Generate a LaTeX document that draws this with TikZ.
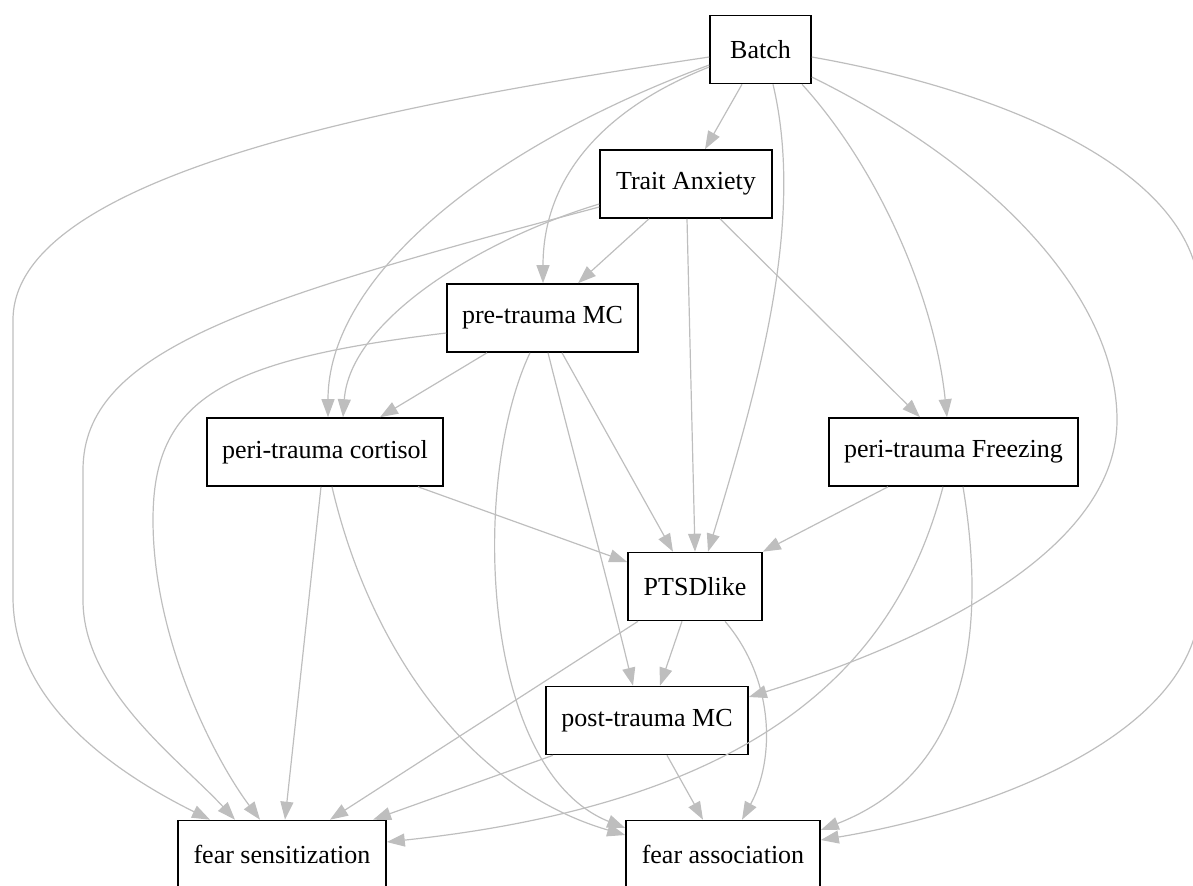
\documentclass[tikz,border=0pt]{standalone}
\usepackage{fontspec}
\setmainfont{Liberation Serif}
\usepackage{xcolor}
\usepackage{tikz}
\usetikzlibrary{arrows.meta, calc}

\definecolor{edgegrey}{RGB}{190,190,190}

\tikzset{
  %% Variable box
  var/.style={
    rectangle, draw=black, line width=0.8pt,
    minimum height=34pt, inner sep=2pt,
    font=\fontsize{13}{15}\selectfont
  },
  %% Dependency arrow
  dep/.style={-{Triangle[length=9pt,width=6.5pt]},
              draw=edgegrey, line width=0.6pt},
}

\begin{document}
\begin{tikzpicture}[x=0.5pt, y=-0.5pt]

  \useasboundingbox (0,0) rectangle (1193,885);

  %% Nodes
  \node[var, minimum width=50.5pt] (batch) at (760.5,49.5) {Batch};
  \node[var, minimum width=86pt]   (trait) at (686,184)    {Trait Anxiety};
  \node[var, minimum width=95.5pt] (pre)   at (542.5,318)  {pre-trauma MC};
  \node[var, minimum width=118pt]  (cort)  at (325,452)    {peri-trauma cortisol};
  \node[var, minimum width=124.5pt](freez) at (953.5,452)  {peri-trauma Freezing};
  \node[var, minimum width=67pt]   (ptsd)  at (695,586.5)  {PTSDlike};
  \node[var, minimum width=101pt]  (post)  at (647,720.5)  {post-trauma MC};
  \node[var, minimum width=104pt]  (sens)  at (282,854.5)  {fear sensitization};
  \node[var, minimum width=97pt]   (assoc) at (723,854.5)  {fear association};

  %% From Batch
  \draw[dep] ($(batch.south)+(-18.5,0)$) -- ($(trait.north)+(19,0)$);
  \draw[dep] ($(batch.west)+(0,17.5)$) .. controls (600,110) and (543,180)
       .. ($(pre.north)+(0.5,0)$);
  \draw[dep] ($(batch.west)+(0,15.5)$) .. controls (480,150) and (328,280)
       .. ($(cort.north)+(3,0)$);
  \draw[dep] ($(batch.south)+(12.5,0)$) .. controls (805,220) and (760,380)
       .. ($(ptsd.north)+(13,0)$);
  \draw[dep] ($(batch.south)+(41.5,0)$) .. controls (880,170) and (935,300)
       .. ($(freez.north)+(-6.5,0)$);
  \draw[dep] ($(batch.east)+(0,27.5)$) .. controls (1000,170) and (1117,300)
       .. (1117,420) .. controls (1117,560) and (900,650)
       .. ($(post.east)+(0,-23.5)$);
  \draw[dep] ($(batch.west)+(0,7.5)$) .. controls (420,100) and (13,170)
       .. (13,320) -- (13,597) .. controls (13,700) and (110,770)
       .. ($(sens.north)+(-72,0)$);
  \draw[dep] ($(batch.east)+(0,7.5)$) .. controls (1000,90) and (1200,170)
       .. (1200,300) -- (1200,600) .. controls (1200,730) and (1000,810)
       .. ($(assoc.east)+(0,-14.5)$);

  %% From Trait Anxiety
  \draw[dep] ($(trait.south)+(-37,0)$) -- ($(pre.north)+(35.5,0)$);
  \draw[dep] ($(trait.west)+(0,20)$) .. controls (480,240) and (350,320)
       .. ($(cort.north)+(18,0)$);
  \draw[dep] ($(trait.west)+(0,23)$) .. controls (250,300) and (83,350)
       .. (83,470) -- (83,600) .. controls (83,690) and (180,760)
       .. ($(sens.north)+(-47,0)$);
  \draw[dep] ($(trait.south)+(1,0)$) -- (ptsd.north);
  \draw[dep] ($(trait.south)+(34,0)$) -- ($(freez.north)+(-33.5,0)$);

  %% From pre-trauma MC
  \draw[dep] ($(pre.south)+(-55.5,0)$) -- ($(cort.north)+(55,0)$);
  \draw[dep] ($(pre.west)+(0,15)$) .. controls (220,360) and (153,400)
       .. (153,520) .. controls (153,640) and (215,760)
       .. ($(sens.north)+(-22,0)$);
  \draw[dep] ($(pre.south)+(19.5,0)$) -- ($(ptsd.north)+(-22,0)$);
  \draw[dep] ($(pre.south)+(5.5,0)$) .. controls (575,460) and (605,570)
       .. ($(post.north)+(-14,0)$);
  \draw[dep] ($(pre.south)+(-12.5,0)$) .. controls (470,480) and (480,770)
       .. ($(assoc.west)+(0,-26.5)$);

  %% From peri-trauma cortisol
  \draw[dep] ($(cort.south)+(-4,0)$) -- ($(sens.north)+(3,0)$);
  \draw[dep] ($(cort.south)+(93,0)$) -- ($(ptsd.west)+(0,-24.5)$);
  \draw[dep] ($(cort.south)+(7,0)$) .. controls (370,650) and (470,790)
       .. ($(assoc.west)+(0,-19.5)$);

  %% From peri-trauma Freezing
  \draw[dep] ($(freez.south)+(-65.5,0)$) -- (ptsd.north east);
  \draw[dep] ($(freez.south)+(-10.5,0)$) .. controls (900,650) and (780,800)
       .. ($(sens.east)+(0,-12.5)$);
  \draw[dep] ($(freez.south)+(9.5,0)$) .. controls (985,620) and (975,770)
       .. ($(assoc.east)+(0,-24.5)$);

  %% From PTSDlike
  \draw[dep] ($(ptsd.south)+(-13,0)$) -- ($(post.north)+(13,0)$);
  \draw[dep] ($(ptsd.south)+(-57,0)$) -- ($(sens.north)+(48,0)$);
  \draw[dep] ($(ptsd.south)+(30,0)$) .. controls (775,680) and (775,760)
       .. ($(assoc.north)+(19,0)$);

  %% From post-trauma MC
  \draw[dep] ($(post.south)+(-94,0)$) -- ($(sens.north)+(91,0)$);
  \draw[dep] ($(post.south)+(20,0)$) -- ($(assoc.north)+(-20,0)$);

\end{tikzpicture}
\end{document}
